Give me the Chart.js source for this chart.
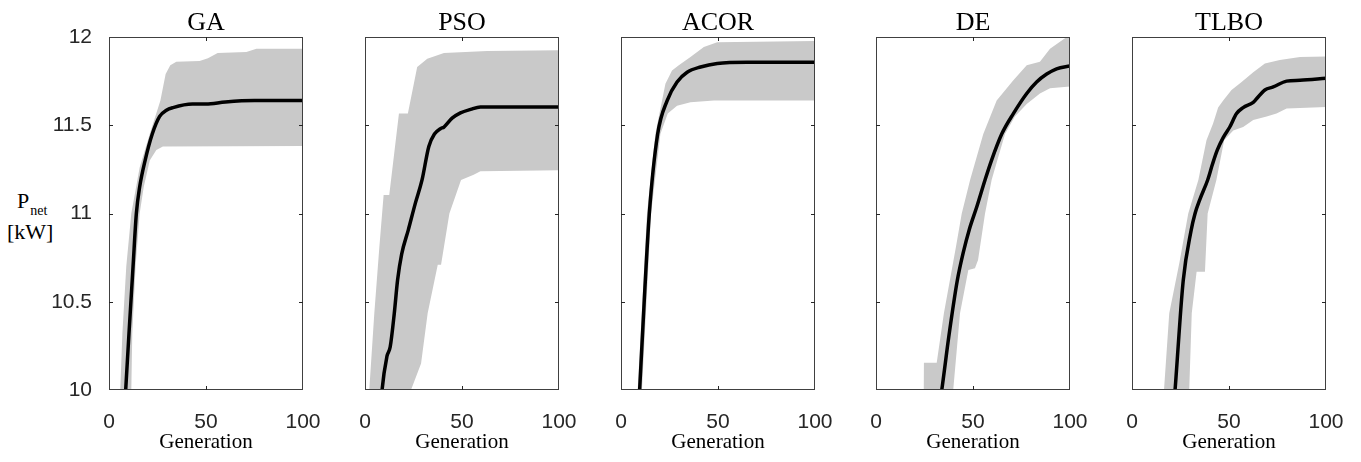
<!DOCTYPE html>
<html>
<head>
<meta charset="utf-8">
<title>Pnet convergence</title>
<script src="https://cdn.jsdelivr.net/npm/chart.js@4.4.1/dist/chart.umd.min.js"></script>
<style>
  body { margin: 0; background: #fff; }
  #wrap { position: relative; width: 1361px; height: 462px; overflow: hidden; }
  #wrap canvas { position: absolute; top: 0; }
  .ylab { position: absolute; font-family: "Liberation Serif", "Times New Roman", serif; color: #000; white-space: nowrap; font-size: 22px; line-height: 22px; }
  .ylab span { font-size: 14px; position: relative; top: 7px; margin-left: 1px; }
</style>
</head>
<body>
<div id="wrap">
  <div class="ylab" style="left:17px; top:190px;">P<span>net</span></div>
  <div class="ylab" style="left:7px; top:221px;">[kW]</div>
</div>
<script>
// algorithm names, one panel each
var algorithms = ['GA', 'PSO', 'ACOR', 'DE', 'TLBO'];

// [generation, Pnet kW]: mean curve, upper and lower band edge
var gaMean  = [[6, 9.5], [8.6, 10.0], [10.3, 10.32], [12.4, 10.70], [14.1, 11.0], [15.8, 11.15], [18.6, 11.30], [22.3, 11.45], [26.1, 11.55], [29.6, 11.585], [33, 11.60], [43, 11.62], [50, 11.62], [60, 11.632], [75, 11.64], [100, 11.64]];
var gaUpper = [[0, 9.5], [5.8, 10.0], [6.9, 10.32], [8.9, 10.70], [11.5, 11.0], [15.8, 11.26], [21, 11.45], [26.5, 11.64], [29.2, 11.79], [31.6, 11.84], [34.7, 11.86], [46.7, 11.864], [51, 11.88], [56, 11.91], [70.8, 11.915], [76, 11.934], [100, 11.934]];
var gaLower = [[0, 9.0], [11.5, 10.0], [12, 10.32], [13.7, 10.70], [15.8, 11.0], [17.9, 11.15], [21, 11.30], [24.4, 11.36], [27.8, 11.38], [100, 11.383]];

var psoMean  = [[7, 9.7], [8.8, 10.0], [11.3, 10.19], [13, 10.245], [15.1, 10.435], [16.8, 10.623], [18.9, 10.77], [22.3, 10.906], [26, 11.06], [29.4, 11.19], [32.9, 11.38], [35.8, 11.45], [38.9, 11.48], [40.7, 11.49], [44.9, 11.54], [49.2, 11.57], [54.4, 11.59], [59.5, 11.604], [100, 11.604]];
var psoUpper = [[0, 9.8], [2.2, 10.0], [4.8, 10.435], [7.4, 10.81], [9.6, 11.105], [12.5, 11.105], [17.5, 11.566], [22.1, 11.566], [26.9, 11.83], [32.1, 11.877], [40.7, 11.909], [63, 11.92], [100, 11.925]];
var psoLower = [[0, 9.0], [23.7, 10.0], [28.9, 10.15], [32.3, 10.435], [37.5, 10.71], [39.2, 10.71], [43.5, 11.0], [49.5, 11.19], [56, 11.22], [59.5, 11.24], [100, 11.245]];

var acorMean  = [[8, 9.7], [9.6, 10.0], [12, 10.51], [14.6, 11.0], [18.9, 11.45], [23.8, 11.64], [28.9, 11.745], [34.1, 11.80], [41, 11.83], [49.6, 11.85], [65, 11.857], [100, 11.857]];
var acorUpper = [[0, 9.0], [8.6, 10.0], [13.4, 11.0], [17.7, 11.45], [22.9, 11.735], [26.3, 11.81], [29.8, 11.84], [35.8, 11.887], [42.7, 11.943], [49.6, 11.97], [100, 11.977]];
var acorLower = [[0, 9.0], [10.8, 10.0], [15.5, 11.0], [20.3, 11.45], [24.1, 11.566], [28.9, 11.61], [35.8, 11.63], [47.9, 11.64], [100, 11.64]];

var deMean  = [[31, 9.8], [33.9, 10.0], [37.5, 10.3], [41.9, 10.62], [45, 10.78], [48.1, 10.91], [52, 11.04], [56.2, 11.19], [59.5, 11.30], [64.8, 11.45], [70.8, 11.566], [77.7, 11.68], [82.8, 11.745], [88, 11.79], [93.1, 11.82], [100, 11.836]];
var deUpper = [[0, 9.95], [24.6, 9.95], [24.7, 10.155], [31.3, 10.155], [35, 10.435], [41.2, 10.81], [44.2, 11.0], [48.5, 11.19], [55.3, 11.45], [62.2, 11.64], [70.8, 11.755], [77.7, 11.84], [84.5, 11.86], [89.7, 11.934], [98.3, 12.0], [100, 12.02]];
var deLower = [[0, 9.8], [39.8, 10.0], [43.3, 10.435], [47.6, 10.68], [51, 10.69], [52.6, 10.737], [56.2, 11.0], [59.6, 11.19], [62.5, 11.30], [66.5, 11.45], [71.6, 11.55], [77.7, 11.62], [84.5, 11.68], [89.7, 11.71], [100, 11.72]];

var tlboMean  = [[20, 9.7], [22.2, 10.0], [26.4, 10.62], [30.4, 10.9], [32.5, 11.0], [35, 11.08], [39, 11.19], [41.5, 11.28], [44, 11.36], [47, 11.43], [50.4, 11.49], [53.9, 11.566], [57.3, 11.60], [62.5, 11.63], [64.2, 11.65], [68.5, 11.70], [72.8, 11.717], [79.7, 11.75], [86.6, 11.755], [100, 11.766]];
var tlboUpper = [[0, 9.5], [16.5, 10.0], [19.2, 10.435], [24.4, 10.72], [29, 11.0], [34.2, 11.19], [38.4, 11.415], [41.8, 11.51], [44.4, 11.60], [47, 11.64], [51.3, 11.70], [56.5, 11.745], [62.5, 11.80], [68.5, 11.85], [76.2, 11.87], [86.6, 11.887], [100, 11.89]];
var tlboLower = [[0, 9.0], [29.5, 10.0], [30.8, 10.435], [33.3, 10.67], [37.6, 10.67], [39, 11.0], [43.5, 11.19], [47.5, 11.415], [52.2, 11.47], [57.3, 11.49], [62.5, 11.53], [69.4, 11.55], [74.5, 11.566], [79.7, 11.595], [100, 11.604]];

var means  = [gaMean, psoMean, acorMean, deMean, tlboMean];
var uppers = [gaUpper, psoUpper, acorUpper, deUpper, tlboUpper];
var lowers = [gaLower, psoLower, acorLower, deLower, tlboLower];

// axis ranges and ticks
var xRange = [0, 100], xStep = 50;
var yRange = [10, 12], yStep = 0.5;

function pts(arr) {
    return arr.map(function(p) { return {x: p[0], y: p[1]}; });
}

// MATLAB style box with inward ticks on all four sides
var boxAxes = {
    id: 'boxAxes',
    afterDatasetsDraw: function(chart) {
        var ctx = chart.ctx, a = chart.chartArea;
        var sx = chart.scales.x, sy = chart.scales.y;
        var l = Math.round(a.left), t = Math.round(a.top), r = Math.round(a.right), b = Math.round(a.bottom);
        ctx.save();
        ctx.strokeStyle = '#404040';
        ctx.lineWidth = 1;
        ctx.strokeRect(l + 0.5, t + 0.5, r - l - 1, b - t - 1);
        ctx.strokeStyle = '#262626';
        ctx.beginPath();
        sx.ticks.forEach(function(tk) {
            if (tk.value <= sx.min || tk.value >= sx.max) return;
            var px = Math.round(sx.getPixelForValue(tk.value)) + 0.5;
            ctx.moveTo(px, b); ctx.lineTo(px, b - 4);
            ctx.moveTo(px, t); ctx.lineTo(px, t + 4);
        });
        sy.ticks.forEach(function(tk) {
            if (tk.value <= sy.min || tk.value >= sy.max) return;
            var py = Math.round(sy.getPixelForValue(tk.value)) + 0.5;
            ctx.moveTo(l, py); ctx.lineTo(l + 4, py);
            ctx.moveTo(r, py); ctx.lineTo(r - 4, py);
        });
        ctx.stroke();
        ctx.restore();
    }
};

var wrap = document.getElementById('wrap');
var plotLeft = 109, plotStep = 255.8, padL = 60, padR = 30;

algorithms.forEach(function(name, i) {
    var cv = document.createElement('canvas');
    cv.width = padL + 194 + padR;
    cv.height = 462;
    cv.style.left = Math.round(plotLeft + i * plotStep - padL) + 'px';
    wrap.appendChild(cv);

    new Chart(cv.getContext('2d'), {
        type: 'line',
        data: {
            datasets: [{
                label: name + ' mean',
                data: pts(means[i]),
                borderColor: '#000',
                borderWidth: 3.5,
                pointRadius: 0,
                cubicInterpolationMode: 'monotone',
                fill: false,
                clip: 0
            }, {
                label: name + ' upper',
                data: pts(uppers[i]),
                borderColor: 'rgba(0,0,0,0)',
                borderWidth: 0,
                pointRadius: 0,
                fill: false
            }, {
                label: name + ' lower',
                data: pts(lowers[i]),
                borderColor: 'rgba(0,0,0,0)',
                borderWidth: 0,
                pointRadius: 0,
                backgroundColor: '#c9c9c9',
                fill: '-1'
            }]
        },
        options: {
            responsive: false,
            animation: false,
            events: [],
            layout: { padding: { left: 0, right: padR, top: 0, bottom: 0 } },
            plugins: {
                legend: { display: false },
                tooltip: { enabled: false },
                title: {
                    display: true,
                    fullSize: false,
                    text: name,
                    color: '#000',
                    font: { family: '"Liberation Serif", "Times New Roman", serif', size: 26, weight: 'normal', lineHeight: 1 },
                    padding: { top: 10, bottom: 1 }
                }
            },
            scales: {
                x: {
                    type: 'linear',
                    min: xRange[0], max: xRange[1],
                    grid: { display: false },
                    border: { display: false },
                    ticks: {
                        stepSize: xStep,
                        padding: 12,
                        color: '#262626',
                        maxRotation: 0,
                        font: { family: '"Liberation Sans", Arial, sans-serif', size: 21 }
                    },
                    title: {
                        display: true,
                        text: 'Generation',
                        color: '#000',
                        padding: { top: 0, bottom: 7 },
                        font: { family: '"Liberation Serif", "Times New Roman", serif', size: 21 }
                    },
                    afterFit: function(s) { s.height = 72; }
                },
                y: {
                    type: 'linear',
                    min: yRange[0], max: yRange[1],
                    grid: { display: false },
                    border: { display: false },
                    ticks: {
                        display: i === 0,
                        stepSize: yStep,
                        padding: 9,
                        color: '#262626',
                        font: { family: '"Liberation Sans", Arial, sans-serif', size: 21 },
                        callback: function(v) { return String(Math.round(v * 10) / 10); }
                    },
                    afterFit: function(s) { s.width = padL; }
                }
            }
        },
        plugins: [boxAxes]
    });
});
</script>
</body>
</html>
